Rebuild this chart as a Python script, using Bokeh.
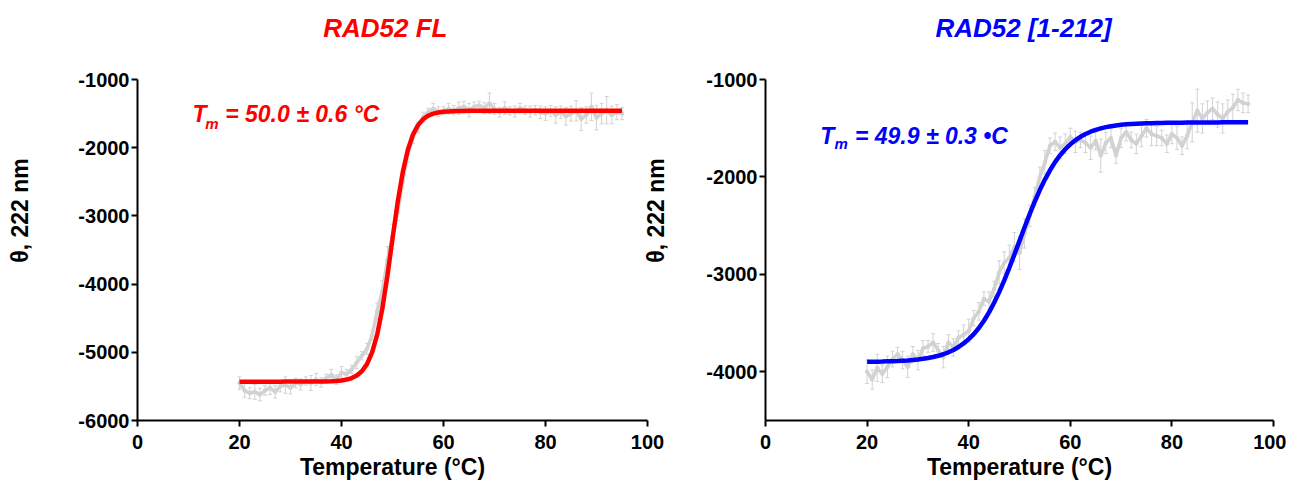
from bokeh.plotting import figure
from bokeh.layouts import row
from bokeh.models import (ColumnDataSource, Whisker, TeeHead, Label, FixedTicker, Range1d)
from bokeh.embed import file_html
from bokeh.resources import INLINE

# ---------------- data ----------------
temps = list(range(20, 96))

# RAD52 FL (left)
fl_theta = [
    -5450, -5560, -5600, -5580, -5620, -5560, -5520, -5580, -5500, -5480,
    -5520, -5450, -5470, -5420, -5450, -5400, -5440, -5380, -5330, -5400,
    -5300, -5320, -5250, -5150, -5050, -4950, -4750, -4400, -4100, -3650,
    -3300, -2950, -2500, -2100, -1850, -1700, -1550, -1480, -1430, -1470,
    -1460, -1430, -1450, -1420, -1400, -1450, -1400, -1380, -1420, -1350,
    -1430, -1480, -1420, -1460, -1470, -1420, -1450, -1470, -1450, -1480,
    -1500, -1460, -1520, -1480, -1540, -1500, -1460, -1580, -1520, -1400,
    -1560, -1500, -1450, -1520, -1480, -1500]
fl_err = [
    90, 100, 80, 110, 90, 70, 100, 90, 80, 120,
    90, 70, 80, 60, 110, 90, 70, 60, 80, 70,
    90, 70, 60, 90, 60, 80, 70, 120, 150, 200,
    180, 120, 100, 110, 90, 80, 70, 60, 80, 70,
    60, 80, 70, 90, 80, 100, 70, 60, 80, 150,
    80, 70, 90, 60, 80, 70, 60, 80, 70, 90,
    100, 80, 120, 90, 130, 110, 150, 170, 120, 200,
    180, 150, 200, 130, 110, 90]
fl_fit = [
    -5430, -5430, -5430, -5430, -5430, -5430, -5430, -5430, -5430, -5429,
    -5429, -5429, -5429, -5428, -5428, -5428, -5428, -5427, -5424, -5420,
    -5413, -5400, -5378, -5341, -5278, -5173, -5001, -4741, -4362, -3879,
    -3335, -2807, -2364, -2034, -1811, -1669, -1583, -1531, -1501, -1484,
    -1474, -1468, -1464, -1462, -1461, -1460, -1460, -1460, -1460, -1460,
    -1460, -1460, -1460, -1460, -1460, -1460, -1460, -1460, -1460, -1460,
    -1460, -1460, -1460, -1460, -1460, -1460, -1460, -1460, -1460, -1460,
    -1460, -1460, -1460, -1460, -1460, -1460]

# RAD52 [1-212] (right)
nt_theta = [
    -4000, -4080, -3960, -4020, -3950, -3870, -3820, -3880, -3950, -3820,
    -3880, -3760, -3740, -3700, -3780, -3850, -3700, -3750, -3650, -3620,
    -3580, -3450, -3380, -3250, -3280, -3150, -2980, -2880, -2830, -2720,
    -2780, -2580, -2400, -2200, -2000, -1850, -1680, -1640, -1700, -1660,
    -1590, -1640, -1620, -1650, -1700, -1630, -1780, -1650, -1600, -1780,
    -1600, -1540, -1620, -1660, -1580, -1500, -1560, -1580, -1600, -1660,
    -1560, -1600, -1680, -1580, -1440, -1320, -1400, -1340, -1300, -1360,
    -1400, -1330, -1290, -1210, -1240, -1250]
nt_err = [
    120, 100, 140, 90, 110, 80, 70, 90, 110, 80,
    100, 80, 60, 90, 70, 110, 80, 90, 70, 100,
    120, 80, 90, 70, 100, 80, 120, 110, 130, 150,
    170, 150, 110, 90, 100, 120, 80, 90, 110, 100,
    90, 110, 80, 100, 120, 90, 170, 110, 100, 80,
    100, 90, 80, 100, 110, 90, 120, 100, 80, 90,
    100, 120, 90, 130, 200, 220, 150, 120, 110, 130,
    150, 120, 140, 110, 100, 90]
nt_fit = [
    -3897, -3896, -3896, -3895, -3893, -3891, -3889, -3886, -3883, -3879,
    -3874, -3867, -3859, -3848, -3836, -3820, -3800, -3776, -3746, -3709,
    -3665, -3613, -3550, -3476, -3390, -3292, -3182, -3061, -2932, -2795,
    -2656, -2517, -2382, -2254, -2135, -2027, -1932, -1848, -1777, -1716,
    -1665, -1623, -1588, -1559, -1536, -1517, -1502, -1489, -1479, -1472,
    -1465, -1460, -1457, -1454, -1452, -1450, -1448, -1447, -1446, -1445,
    -1444, -1443, -1443, -1442, -1442, -1442, -1441, -1441, -1441, -1441,
    -1440, -1440, -1440, -1440, -1440, -1440]

x_ticks = [0, 20, 40, 60, 80, 100]
fl_y_ticks = [-6000, -5000, -4000, -3000, -2000, -1000]
nt_y_ticks = [-4000, -3000, -2000, -1000]

FONT = "Liberation Sans"
GREY = "#d2d2d2"

AXIS_PX = 341      # pixel height of the drawn axis (-1000 .. bottom)
TOP_PX = 79        # space above the axis top, kept inside the frame for the title


def make_panel(title, title_x, color, theta, err, fit, y_lo, y_ticks, tm_text, tm_pos,
               width, mb_left, mb_right, ylabel_standoff):
    per_px = (-1000 - y_lo) / AXIS_PX
    y_top = -1000 + TOP_PX * per_px
    p = figure(width=width, height=486, output_backend="svg", toolbar_location=None,
               x_range=Range1d(0, 100), y_range=Range1d(y_lo, y_top),
               min_border_left=mb_left, min_border_right=mb_right,
               min_border_top=0, min_border_bottom=66)
    p.outline_line_color = None
    p.grid.grid_line_color = None

    src = ColumnDataSource(dict(
        t=temps, v=theta,
        up=[a + b for a, b in zip(theta, err)],
        lo=[a - b for a, b in zip(theta, err)]))
    w = Whisker(source=src, base="t", upper="up", lower="lo", dimension="height",
                line_color=GREY, line_width=1,
                upper_head=TeeHead(size=4, line_color=GREY, line_width=1),
                lower_head=TeeHead(size=4, line_color=GREY, line_width=1))
    p.add_layout(w)
    p.line("t", "v", source=src, line_color=GREY, line_width=3.5)
    p.scatter("t", "v", source=src, size=3.5, color=GREY)
    p.line(temps, fit, line_color=color, line_width=4.5)

    for ax in (p.xaxis[0], p.yaxis[0]):
        ax.axis_line_color = "black"
        ax.axis_line_width = 2
        ax.major_tick_line_color = "black"
        ax.major_tick_line_width = 2
        ax.major_tick_out = 6
        ax.major_tick_in = 0
        ax.minor_tick_line_color = None
        ax.major_label_text_font = FONT
        ax.major_label_text_font_style = "bold"
        ax.major_label_text_font_size = "20px"
        ax.major_label_text_color = "black"
        ax.axis_label_text_font = FONT
        ax.axis_label_text_font_style = "bold"
        ax.axis_label_text_font_size = "23px"
        ax.axis_label_text_color = "black"
    p.yaxis.bounds = (y_lo, -1000)
    p.xaxis.ticker = FixedTicker(ticks=x_ticks)
    p.yaxis.ticker = FixedTicker(ticks=y_ticks)
    p.yaxis.major_label_overrides = {t: str(t) for t in y_ticks}
    p.xaxis.major_label_standoff = 8
    p.yaxis.major_label_standoff = 2
    p.xaxis.axis_label = "Temperature (°C)"
    p.yaxis.axis_label = "θ, 222 nm"
    p.xaxis.axis_label_standoff = 2
    p.yaxis.axis_label_standoff = ylabel_standoff

    # panel title, 52 px above the top of the axis
    p.add_layout(Label(x=title_x, y=-1000 + 52 * per_px, text=title, text_font=FONT,
                       text_font_style="bold italic", text_font_size="26px",
                       text_color=color, text_align="center", text_baseline="middle"))

    (tx, ty), (mx, my), (ex, ey) = tm_pos
    common = dict(text_font=FONT, text_font_style="bold italic", text_color=color,
                  text_baseline="alphabetic", text_align="left")
    p.add_layout(Label(x=tx, y=ty, text="T", text_font_size="23px", **common))
    p.add_layout(Label(x=mx, y=my, text="m", text_font_size="15px", **common))
    p.add_layout(Label(x=ex, y=ey, text=tm_text, text_font_size="23px", **common))
    return p


p1 = make_panel("RAD52 FL", 48.6, "#ff0000", fl_theta, fl_err, fl_fit, -6000,
                fl_y_ticks, "= 50.0 ± 0.6 °C",
                ((10.8, -1500), (13.3, -1650), (17.2, -1500)),
                width=668, mb_left=137, mb_right=21, ylabel_standoff=42)
p2 = make_panel("RAD52 [1-212]", 50.8, "#0000ff", nt_theta, nt_err, nt_fit, -4500,
                nt_y_ticks, "= 49.9 ± 0.3 •C",
                ((10.8, -1577), (13.6, -1660), (17.6, -1577)),
                width=646, mb_left=123, mb_right=13, ylabel_standoff=34)
p2.border_fill_alpha = 0
p2.background_fill_alpha = 0
p2.margin = (0, 0, 0, -28)

layout = row(p1, p2, spacing=0)
open("out.html", "w").write(file_html(layout, INLINE))
